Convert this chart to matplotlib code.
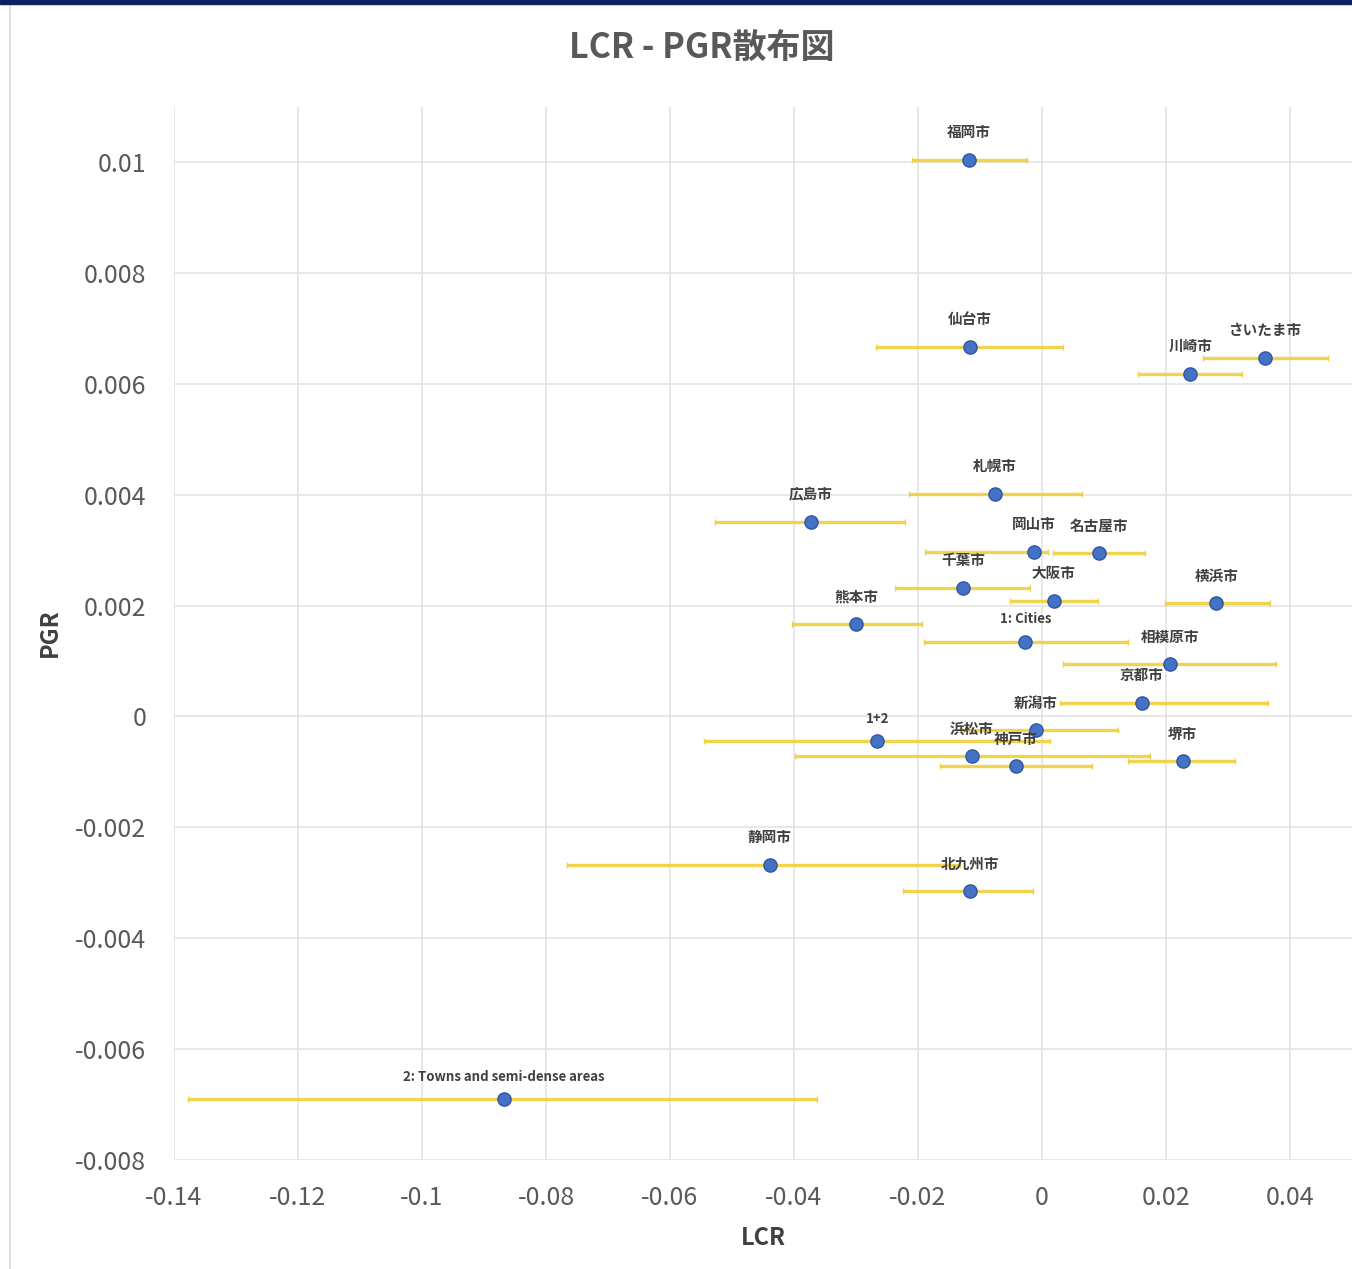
import matplotlib
matplotlib.use("Agg")
import matplotlib.pyplot as plt
from matplotlib.lines import Line2D
from matplotlib.patches import Rectangle
import numpy as np

plt.rcParams['font.family'] = ['Noto Sans CJK JP', 'DejaVu Sans']

# Data
labels = ['福岡市', '仙台市', 'さいたま市', '川崎市', '札幌市', '広島市', '岡山市', '名古屋市',
          '千葉市', '大阪市', '横浜市', '熊本市', '1: Cities', '相模原市', '京都市', '新潟市',
          '1+2', '浜松市', '神戸市', '堺市', '静岡市', '北九州市', '2: Towns and semi-dense areas']
lcr = [-0.0118, -0.0116, 0.0360, 0.0239, -0.0076, -0.0373, -0.0013, 0.0092,
       -0.0127, 0.0019, 0.0281, -0.0300, -0.0027, 0.0206, 0.0161, -0.0010,
       -0.0266, -0.0113, -0.0042, 0.0227, -0.0439, -0.0116, -0.0868]
pgr = [0.01004, 0.00667, 0.00647, 0.00618, 0.00402, 0.00350, 0.00297, 0.00294,
       0.00232, 0.00209, 0.00204, 0.00166, 0.00135, 0.00094, 0.00025, -0.00025,
       -0.00045, -0.00072, -0.00090, -0.00081, -0.00268, -0.00315, -0.00690]
lcr_low = [-0.0210, -0.0268, 0.0260, 0.0155, -0.0215, -0.0527, -0.0189, 0.0018,
           -0.0237, -0.0052, 0.0198, -0.0403, -0.0190, 0.0034, 0.0029, -0.0132,
           -0.0545, -0.0398, -0.0165, 0.0139, -0.0766, -0.0224, -0.1377]
lcr_high = [-0.0024, 0.0034, 0.0461, 0.0323, 0.0065, -0.0221, 0.0010, 0.0166,
            -0.0019, 0.0090, 0.0368, -0.0194, 0.0139, 0.0377, 0.0365, 0.0123,
            0.0013, 0.0174, 0.0081, 0.0311, -0.0132, -0.0014, -0.0363]

xticks = [-0.14, -0.12, -0.1, -0.08, -0.06, -0.04, -0.02, 0, 0.02, 0.04]
xticklabels = ['-0.14', '-0.12', '-0.1', '-0.08', '-0.06', '-0.04', '-0.02', '0', '0.02', '0.04']
yticks = [-0.008, -0.006, -0.004, -0.002, 0, 0.002, 0.004, 0.006, 0.008, 0.01]
yticklabels = ['-0.008', '-0.006', '-0.004', '-0.002', '0', '0.002', '0.004', '0.006', '0.008', '0.01']

W, H = 1352, 1269
fig = plt.figure(figsize=(W / 100, H / 100), dpi=100)
fig.patch.set_facecolor('white')

ax = fig.add_axes([174 / W, 1 - 1160 / H, (W - 174) / W, (1160 - 106.5) / H])
ax.set_xlim(-0.14, 0.05)
ax.set_ylim(-0.008, 0.011)

x = np.array(lcr)
y = np.array(pgr)
xerr = np.vstack([x - np.array(lcr_low), np.array(lcr_high) - x])

ax.errorbar(x, y, xerr=xerr, fmt='none', ecolor='#F0CF3A', elinewidth=2.4,
            capsize=2, capthick=1.0, alpha=0.9, zorder=2)
ax.plot(x, y, 'o', color='#4472C4', markeredgecolor='#2F55A4', markeredgewidth=1,
        markersize=9.5, zorder=3, linestyle='none')

for lab, xi, yi in zip(labels, lcr, pgr):
    latin = lab.isascii()
    ax.annotate(lab, (xi, yi), xytext=(0, 16 if latin else 20), textcoords='offset points',
                ha='center', va='center', fontsize=9.5 if latin else 10.5,
                fontweight='bold', color='#404040', zorder=4)

ax.set_xticks(xticks)
ax.set_xticklabels(xticklabels)
ax.set_yticks(yticks)
ax.set_yticklabels(yticklabels)
ax.tick_params(axis='both', length=0, labelsize=18, labelcolor='#595959')
ax.tick_params(axis='y', pad=20)
ax.tick_params(axis='x', pad=18)
ax.grid(True, color='#E4E4E4', linewidth=1.2)
ax.set_axisbelow(True)
for s in ax.spines.values():
    s.set_visible(False)

fig.text(50 / W, 1 - 633 / H, 'PGR', rotation=90, ha='center', va='center',
         fontsize=17, fontweight='bold', color='#404040')
fig.text(763 / W, 1 - 1238 / H, 'LCR', ha='center', va='center',
         fontsize=17, fontweight='bold', color='#404040')
fig.text(702 / W, 1 - 48 / H, 'LCR - PGR散布図', ha='center', va='center',
         fontsize=24.5, fontweight='bold', color='#595959')

# top navy strip and left border
fig.add_artist(Rectangle((0, 1 - 4 / H), 1, 4 / H, transform=fig.transFigure,
                         color='#0B2160', zorder=10))
fig.add_artist(Line2D([10 / W, 10 / W], [0, 1 - 4 / H], transform=fig.transFigure,
                      color='#E0E0E0', linewidth=1.5))

fig.savefig('out.png', dpi=100)
